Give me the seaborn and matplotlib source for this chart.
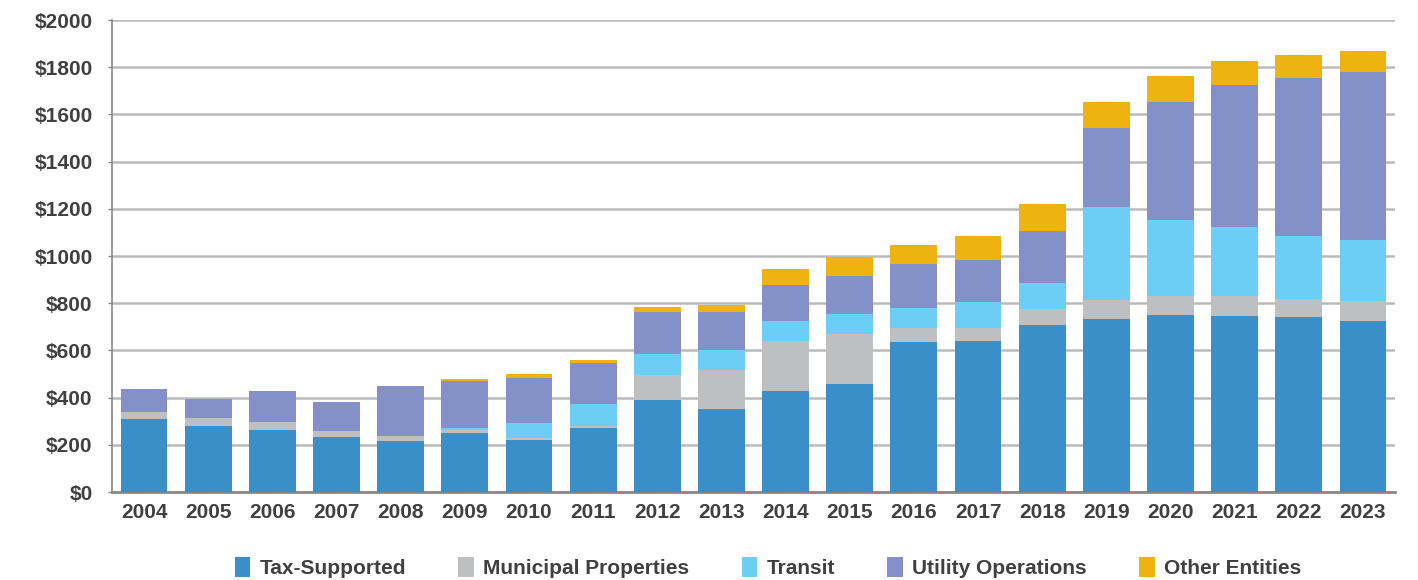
import numpy as np
import pandas as pd
import seaborn as sns
import matplotlib.pyplot as plt
from matplotlib.patches import Patch
from matplotlib.ticker import FuncFormatter

years = ['2004', '2005', '2006', '2007', '2008', '2009', '2010', '2011', '2012', '2013',
         '2014', '2015', '2016', '2017', '2018', '2019', '2020', '2021', '2022', '2023']

tax_supported = [308, 278, 261, 232, 215, 249, 219, 270, 389, 350,
                 427, 456, 634, 638, 706, 732, 749, 744, 740, 723]
municipal_properties = [30, 34, 34, 25, 21, 14, 10, 10, 105, 167,
                        211, 213, 61, 57, 68, 81, 81, 86, 76, 85]
transit = [0, 0, 0, 0, 0, 7, 62, 92, 89, 83,
           85, 84, 83, 109, 110, 393, 321, 291, 267, 258]
utility_operations = [97, 81, 132, 123, 212, 199, 192, 173, 178, 161,
                      153, 161, 187, 178, 221, 335, 500, 602, 670, 712]
other_entities = [0, 0, 0, 0, 0, 8, 16, 13, 22, 30,
                  68, 80, 80, 101, 114, 110, 110, 102, 97, 89]

series_names = ['Tax-Supported', 'Municipal Properties', 'Transit', 'Utility Operations', 'Other Entities']
colors = ['#3B8FC9', '#BEBFC1', '#6CCEF5', '#8491C8', '#EEB311']

df = pd.DataFrame({
    'year': years,
    'Tax-Supported': tax_supported,
    'Municipal Properties': municipal_properties,
    'Transit': transit,
    'Utility Operations': utility_operations,
    'Other Entities': other_entities,
})
# cumulative heights for stacking
cum = df[series_names].cumsum(axis=1)
cum['year'] = df['year']

sns.set_style('white')
plt.rcParams['font.family'] = ['Liberation Sans', 'DejaVu Sans']
text_color = '#404040'

fig = plt.figure(figsize=(14.18, 5.8), dpi=100)
ax = fig.add_axes([112 / 1418, 1 - 492 / 580, (1395 - 112) / 1418, (492 - 20) / 580])

# draw from the tallest cumulative series down so lower segments sit on top
for name, c in reversed(list(zip(series_names, colors))):
    sns.barplot(data=cum, x='year', y=name, color=c, saturation=1, width=0.73,
                linewidth=0, edgecolor='none', ax=ax, zorder=3)

ax.set_xlim(-0.5, len(years) - 0.5)
ax.set_ylim(0, 2000)
ax.set_yticks(np.arange(0, 2001, 200))
ax.yaxis.set_major_formatter(FuncFormatter(lambda v, p: f'${v:.0f}'))
ax.set_xlabel('')
ax.set_ylabel('')

ax.grid(axis='y', color='#BBBBBB', linewidth=1.8, zorder=0)
ax.set_axisbelow(True)
for s in ['top', 'right']:
    ax.spines[s].set_visible(False)
ax.spines['left'].set_color('#888888')
ax.spines['left'].set_linewidth(1.2)
ax.spines['bottom'].set_color('#888888')
ax.spines['bottom'].set_linewidth(2)

ax.tick_params(axis='y', length=3, width=1, color='#888888', pad=11,
               labelsize=15, labelcolor=text_color, left=True)
ax.tick_params(axis='x', length=0, pad=8, labelsize=15, labelcolor=text_color)
for lbl in ax.get_xticklabels() + ax.get_yticklabels():
    lbl.set_fontweight('bold')

handles = [Patch(facecolor=c, edgecolor='none', label=n) for n, c in zip(series_names, colors)]
leg = fig.legend(handles=handles, loc='center', bbox_to_anchor=(768 / 1418, 0.022), ncol=5,
                 frameon=False, handlelength=0.75, handleheight=1.1, handletextpad=0.45,
                 columnspacing=2.5, prop={'size': 15, 'weight': 'bold'})
for t in leg.get_texts():
    t.set_color(text_color)

fig.savefig('out.png', dpi=100)
